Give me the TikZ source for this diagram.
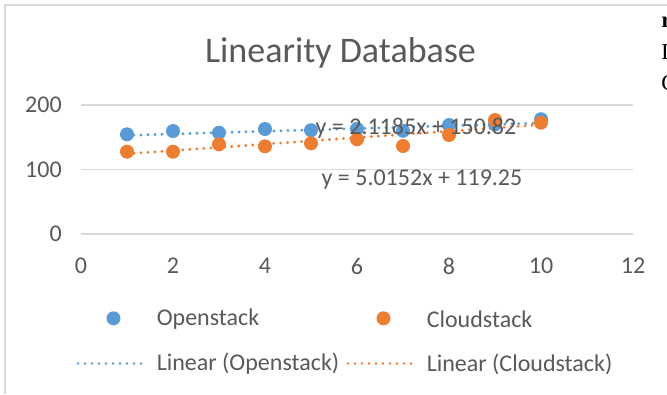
\documentclass[tikz,border=0pt]{standalone}
\usepackage{fontspec}
\setmainfont{Carlito}
\newfontfamily\serifcut{Liberation Serif}
\definecolor{cblue}{HTML}{5B9BD5}
\definecolor{corange}{HTML}{ED7D31}
\definecolor{grid}{HTML}{D9D9D9}
\definecolor{txt}{HTML}{595959}
\definecolor{frame}{HTML}{D9D9D9}
\tikzset{
  lbl/.style={text=txt, inner sep=0pt, font=\fontsize{18}{20}\selectfont},
  ttl/.style={text=txt, inner sep=0pt, font=\fontsize{27}{30}\selectfont},
  gridline/.style={draw=grid, line width=1pt},
  bpt/.style={circle, fill=cblue, inner sep=0pt, minimum size=10.5pt},
  opt/.style={circle, fill=corange, inner sep=0pt, minimum size=10.5pt},
  trendB/.style={draw=cblue, line width=2.4pt, line cap=round, dash pattern=on 0pt off 5.25pt},
  trendO/.style={draw=corange, line width=2.4pt, line cap=round, dash pattern=on 0pt off 5.25pt},
  cut/.style={anchor=base west, inner sep=0pt, font=\serifcut\fontsize{17}{18}\selectfont},
}
\begin{document}
\begin{tikzpicture}[x=0.75pt, y=-0.75pt]
\useasboundingbox (0,0) rectangle (667,394);
% frame
\coordinate (ftl) at (5,5);
\coordinate (ftr) at (667,5);
\coordinate (fbl) at (5,394);
\draw[frame, line width=1.5pt] (fbl) -- (ftl) -- (ftr);
% cut-off text at right
\node[cut, font=\serifcut\bfseries\fontsize{17}{18}\selectfont] (r1) at (661,27) {r};
\node[cut] (r2) at (661,59) {D};
\node[cut] (r3) at (661,90) {C};
% title
\node[ttl, anchor=base] (title) at (340.5,62) {Linearity Database};
% gridlines
\coordinate (g0a) at (81,234); \coordinate (g0b) at (633,234);
\coordinate (g1a) at (81,169.5); \coordinate (g1b) at (633,169.5);
\coordinate (g2a) at (81,105); \coordinate (g2b) at (633,105);
\draw[gridline] (g0a) -- (g0b);
\draw[gridline] (g1a) -- (g1b);
\draw[gridline] (g2a) -- (g2b);
% y labels
\node[lbl, anchor=east] (y0) at (62,234) {0};
\node[lbl, anchor=east] (y100) at (62,169.5) {100};
\node[lbl, anchor=east] (y200) at (62,105) {200};
% x labels
\foreach \v/\px in {0/81,2/173,4/265,6/357,8/449,10/541,12/633}
  \node[lbl] (x\v) at (\px,266) {\v};
% trend lines
\coordinate (bt1) at (127,135.35);
\coordinate (bt2) at (541,123.06);
\coordinate (ot1) at (127,153.8);
\coordinate (ot2) at (541,124.7);
\draw[trendB] (bt1) -- (bt2);
\draw[trendO] (ot1) -- (ot2);
% openstack points
\foreach \i/\px/\py in {1/127/134.3,2/173/131.0,3/219/132.7,4/265/129.0,5/311/130.2,6/357/128.9,7/403/130.8,8/449/125.0,9/495/124.35,10/541/119.2}
  \node[bpt] (b\i) at (\px,\py) {};
% cloudstack points
\foreach \i/\px/\py in {1/127/151.7,2/173/151.7,3/219/144.3,4/265/146.3,5/311/143.3,6/357/139.3,7/403/146.0,8/449/135.0,9/495/120.0,10/541/122.7}
  \node[opt] (c\i) at (\px,\py) {};
% equations
\node[lbl] (eqB) at (416,128) {y = 2.1185x + 150.82};
\node[lbl] (eqO) at (422,180) {y = 5.0152x + 119.25};
% legend
\node[bpt] (lgB) at (113.5,318.3) {};
\node[lbl, anchor=west] (lgBt) at (156.5,319.5) {Openstack};
\node[opt] (lgO) at (383.5,318.3) {};
\node[lbl, anchor=west] (lgOt) at (426.5,319.5) {Cloudstack};
\coordinate (lbl1) at (78,363.5); \coordinate (lbl2) at (143,363.5);
\draw[trendB, line width=2pt] (lbl1) -- (lbl2);
\node[lbl, anchor=west] (lgBl) at (156.5,364) {Linear (Openstack)};
\coordinate (lol1) at (348,363.5); \coordinate (lol2) at (413,363.5);
\draw[trendO, line width=2pt] (lol1) -- (lol2);
\node[lbl, anchor=west] (lgOl) at (426.5,364) {Linear (Cloudstack)};
\end{tikzpicture}
\end{document}
